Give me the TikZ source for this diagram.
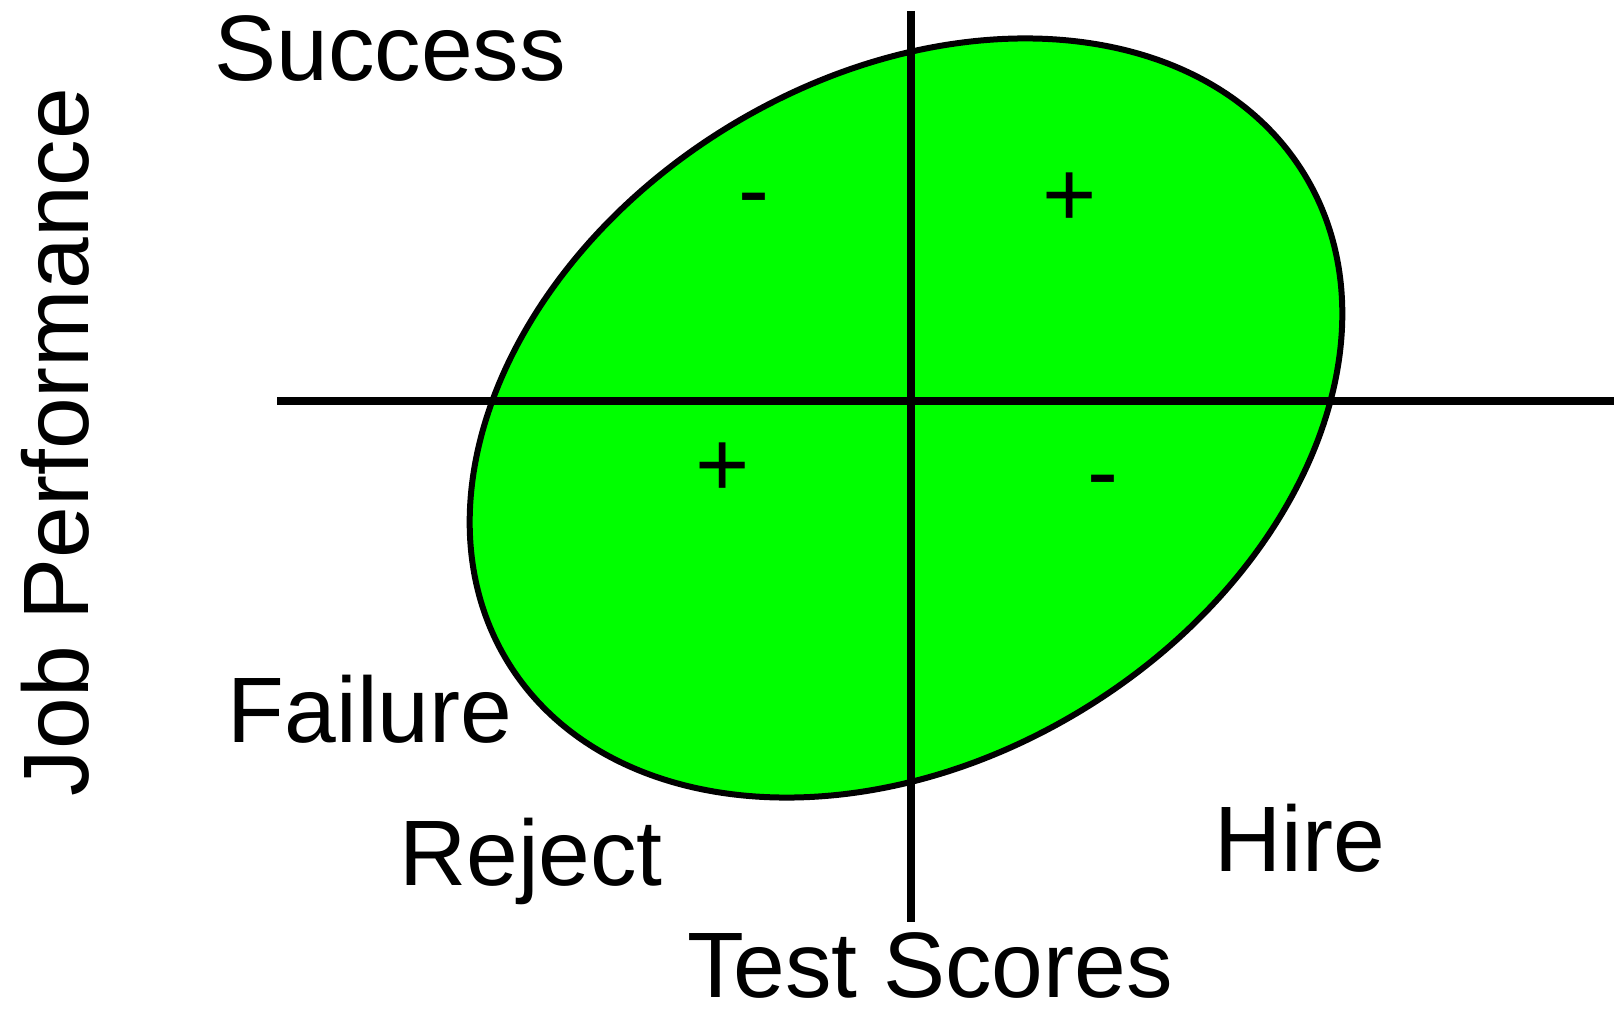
\documentclass[tikz,border=0pt]{standalone}
\usepackage{fontspec}
\setmainfont{Liberation Sans}
\usepackage{xcolor}
\usepackage{tikz}
\definecolor{verde}{RGB}{0,255,0}
\tikzset{
  rotulo/.style={inner sep=0pt, anchor=base, font=\fontsize{46.5}{56}\selectfont},
  sinal/.style={rotulo},
  eixo/.style={line width=4pt},
  nuvem/.style={draw, line width=3pt, fill=verde},
}

\begin{document}
\begin{tikzpicture}[x=0.5pt, y=0.5pt]
  \useasboundingbox (0,0) rectangle (1614,1009);
  % scatter of scores
  \draw[nuvem, rotate around={31.5:(906,591)}] (906,591) ellipse [x radius=467, y radius=341];
  % axes
  \coordinate (ycima) at (911,998);
  \coordinate (ybaixo) at (911,87);
  \coordinate (xesq) at (277,607.5);
  \coordinate (xdir) at (1614,607.5);
  \draw[eixo] (ycima) -- (ybaixo);
  \draw[eixo] (xesq) -- (xdir);
  % quadrant signs
  \node[sinal] (menos1) at (754,787) {-};
  \node[sinal] (mais1) at (1070,782) {+};
  \node[sinal] (mais2) at (723,513) {+};
  \node[sinal] (menos2) at (1103,505) {-};
  % labels
  \node[rotulo] (sucesso) at (390,928) {Success};
  \node[rotulo] (fracasso) at (370,267) {Failure};
  \node[rotulo] (rejeita) at (531,124) {Reject};
  \node[rotulo] (contrata) at (1300,138) {Hire};
  \node[rotulo] (teste) at (930,12) {Test Scores};
  \node[rotulo, rotate=90] (desempenho) at (88,567) {Job Performance};
\end{tikzpicture}
\end{document}
